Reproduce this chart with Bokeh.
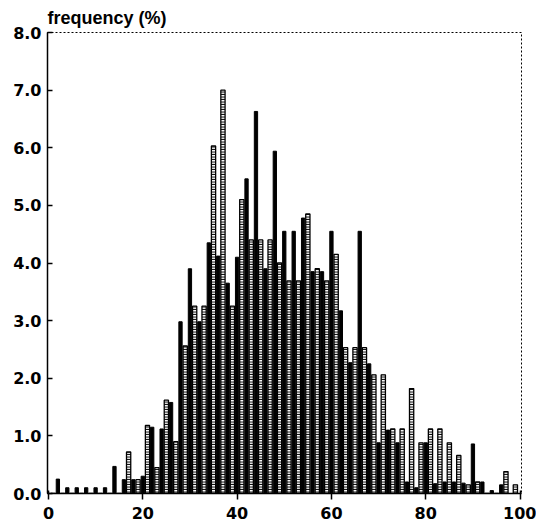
from bokeh.plotting import figure
from bokeh.models import FixedTicker, NumeralTickFormatter, Range1d
from bokeh.embed import file_html
from bokeh.resources import INLINE

# black series at even x, hatched series at odd x
black_x = list(range(0, 101, 2))
black_v = [0.0, 0.25, 0.1, 0.1, 0.1, 0.1, 0.1, 0.47, 0.24, 0.24,
           0.3, 1.15, 1.12, 1.58, 2.98, 3.9, 2.98, 4.35, 4.12, 3.65,
           4.1, 5.46, 6.63, 3.9, 5.94, 4.55, 4.55, 4.78, 3.85, 3.85,
           4.55, 3.17, 2.27, 4.55, 2.25, 0.88, 1.1, 0.88, 0.2, 0.1,
           0.88, 0.17, 0.2, 0.2, 0.18, 0.86, 0.2, 0.05, 0.15, 0.0, 0.0]
hatch_x = list(range(1, 100, 2))
hatch_v = [0.0, 0.0, 0.0, 0.0, 0.0, 0.0, 0.0, 0.0, 0.72, 0.24,
           1.18, 0.45, 1.62, 0.9, 2.56, 3.25, 3.25, 6.03, 7.0, 3.25,
           5.1, 4.4, 4.4, 4.4, 4.0, 3.69, 3.69, 4.85, 3.9, 3.69,
           4.15, 2.53, 2.53, 2.53, 2.06, 2.06, 1.12, 1.12, 1.82, 0.88,
           1.12, 1.12, 0.88, 0.66, 0.15, 0.2, 0.0, 0.0, 0.38, 0.15]

x_ticks = [0, 20, 40, 60, 80, 100]
y_ticks = [0, 1, 2, 3, 4, 5, 6, 7, 8]

p = figure(width=536, height=526, output_backend="svg", toolbar_location=None,
           x_range=Range1d(-0.2, 100.3), y_range=Range1d(0, 8),
           min_border_left=47, min_border_right=15, min_border_top=31, min_border_bottom=33,
           title="frequency (%)")
p.title.text_font = "Liberation Sans"
p.title.text_font_size = "18px"
p.title.text_font_style = "bold"
p.title.text_color = "black"
p.title.align = "left"
p.title.offset = 0
p.title.standoff = 10

p.vbar(x=black_x, top=black_v, width=0.7, bottom=0, fill_color="black", line_color="black")
p.vbar(x=hatch_x, top=hatch_v, width=0.9, bottom=0, fill_color="white", line_color="black",
       line_width=1.3, hatch_pattern="-", hatch_color="black", hatch_scale=2.5, hatch_weight=1.5)

p.grid.visible = False
p.outline_line_color = "black"
p.outline_line_dash = "2 2"
p.outline_line_width = 1

for ax in (p.xaxis, p.yaxis):
    ax.axis_line_color = "black"
    ax.axis_line_width = 1.5
    ax.major_tick_line_color = "black"
    ax.major_tick_line_width = 1.5
    ax.minor_tick_line_color = None
    ax.major_label_text_font = "DejaVu Sans"
    ax.major_label_text_font_style = "bold"
    ax.major_label_text_font_size = "16px"
    ax.major_label_text_color = "black"

p.xaxis.ticker = FixedTicker(ticks=x_ticks)
p.xaxis.major_tick_out = 6
p.xaxis.major_tick_in = 3
p.xaxis.major_label_standoff = 7
p.yaxis.ticker = FixedTicker(ticks=y_ticks)
p.yaxis.formatter = NumeralTickFormatter(format="0.0")
p.yaxis.major_tick_in = 5
p.yaxis.major_tick_out = 0
p.yaxis.major_label_standoff = 6

open("out.html", "w").write(file_html(p, INLINE))
